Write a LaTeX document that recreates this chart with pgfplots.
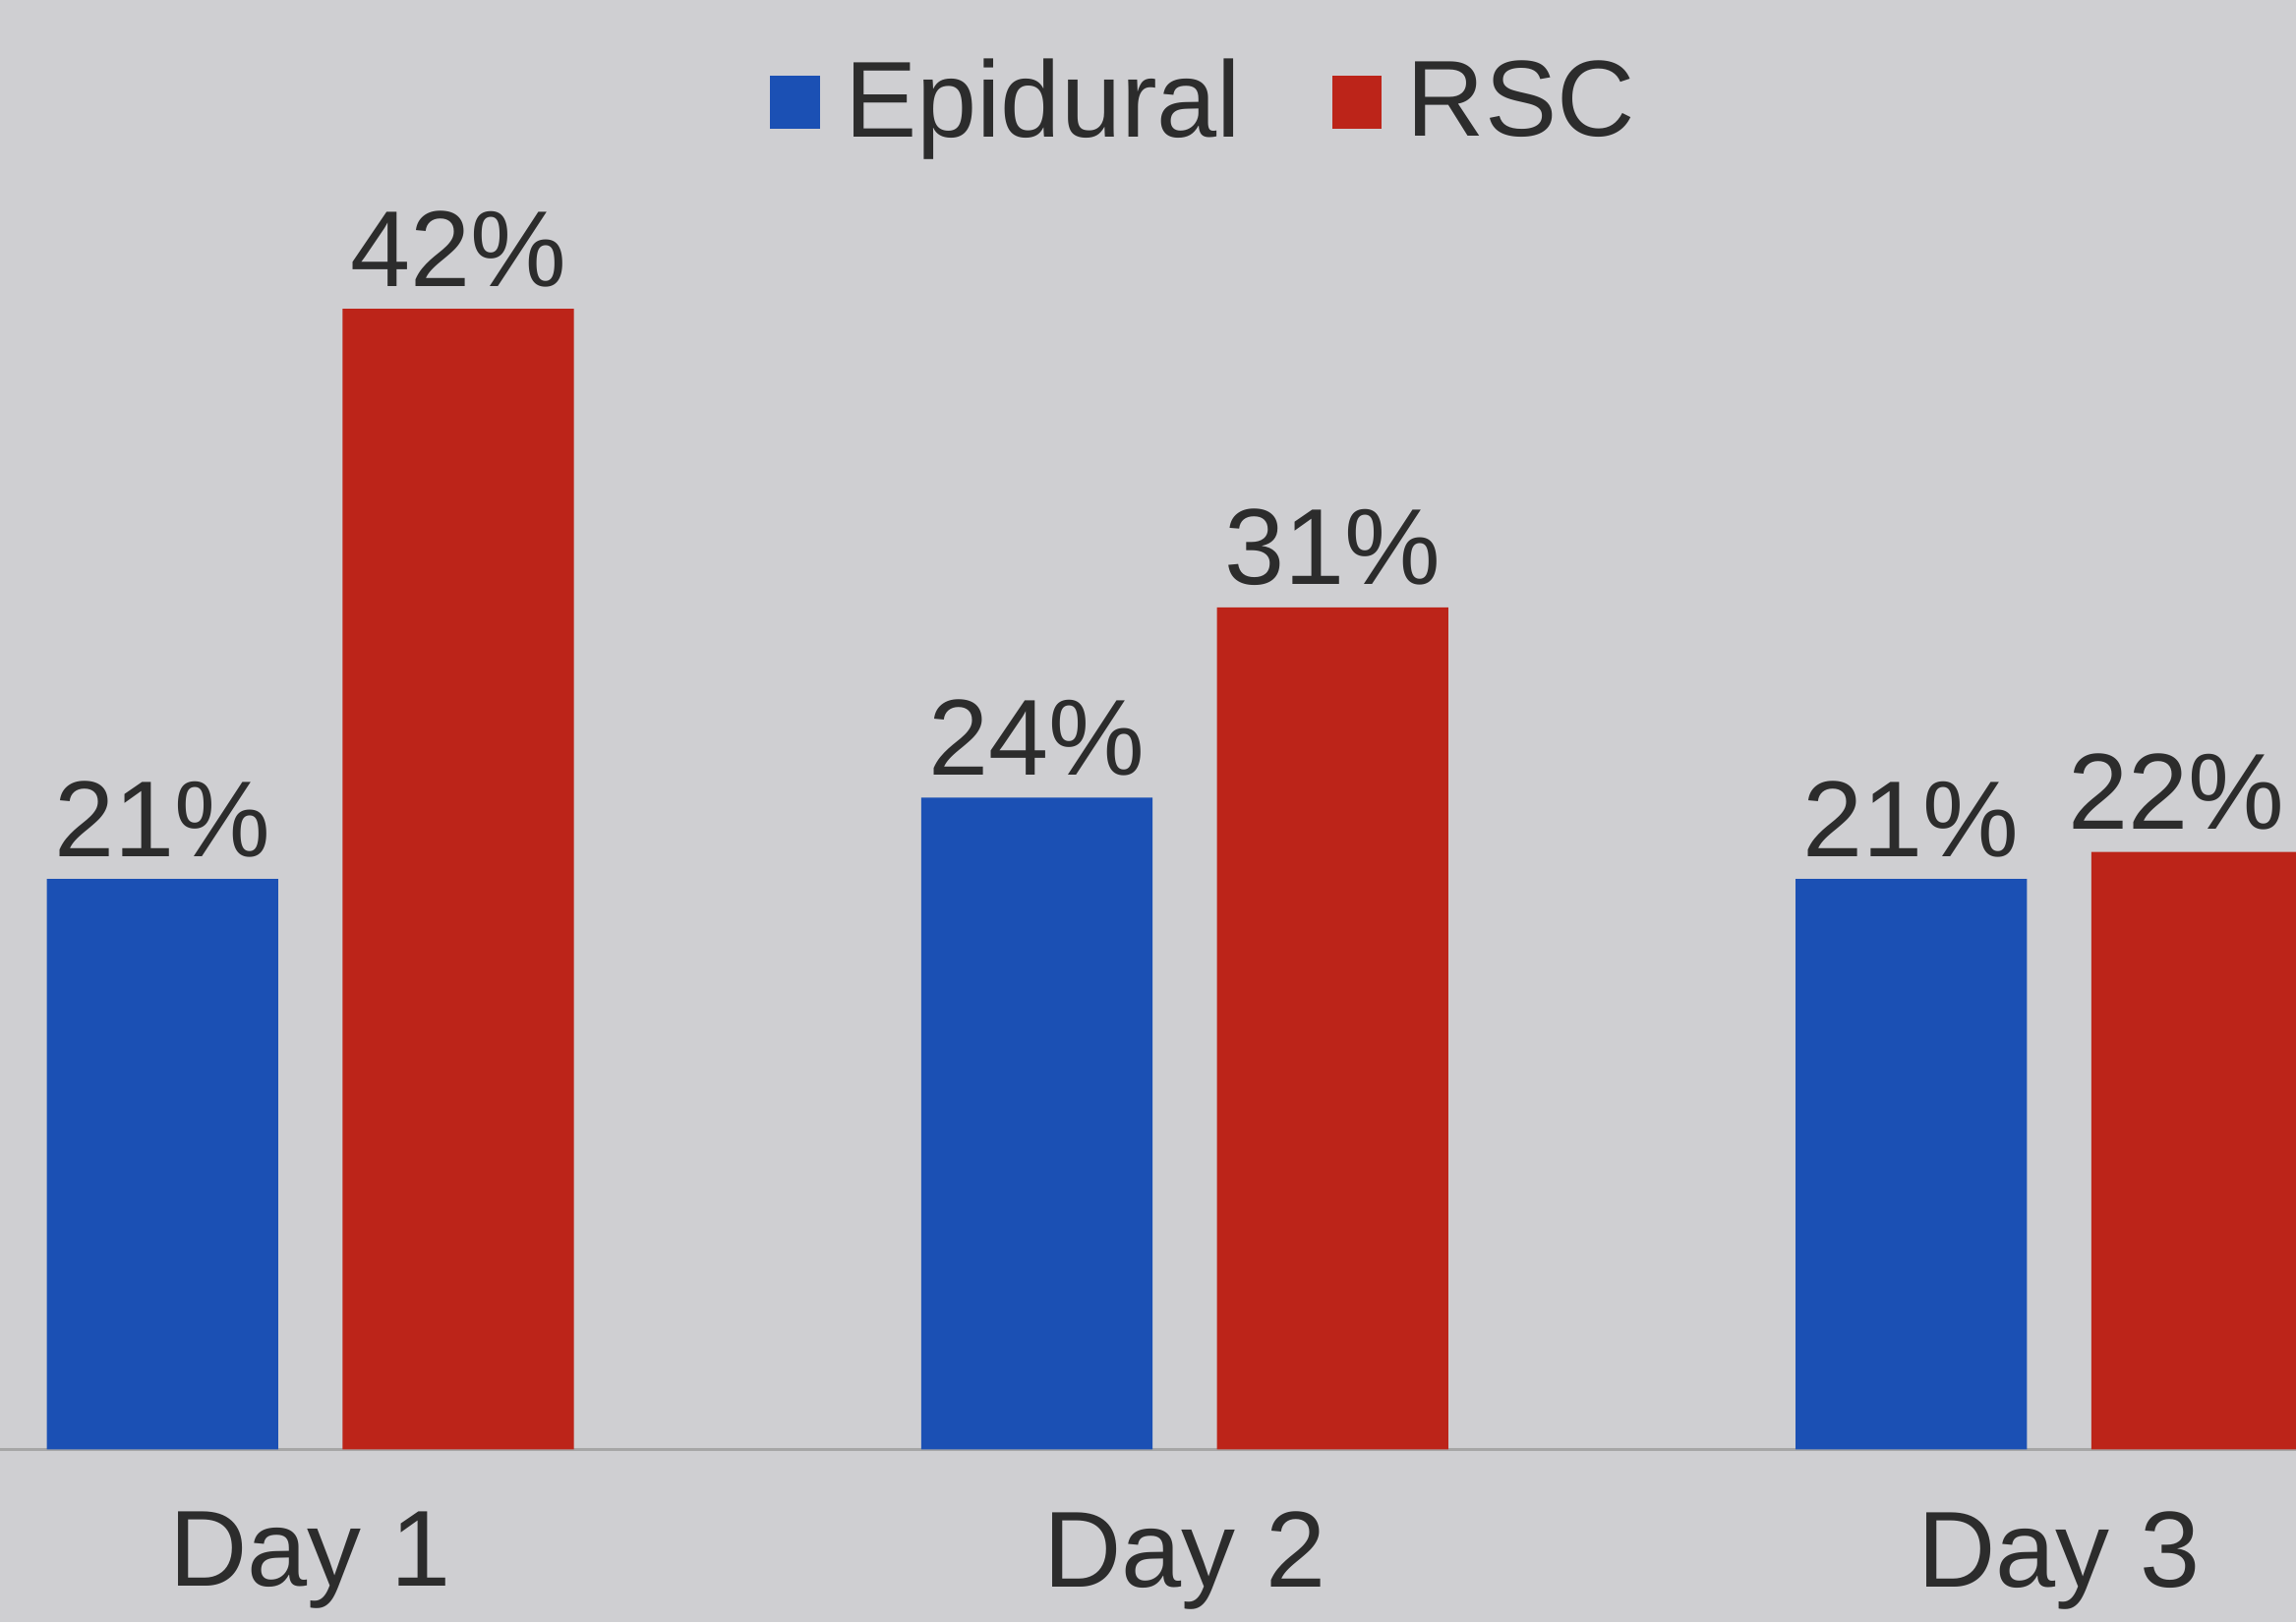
\documentclass[border=0pt]{standalone}
\usepackage{pgfplots}
\pgfplotsset{compat=1.18}
\usepackage{fontspec}
\setmainfont{Liberation Sans}
\definecolor{epiblue}{HTML}{1B50B4}
\definecolor{rscred}{HTML}{BC2419}
\definecolor{bggray}{HTML}{CFCFD2}
\definecolor{txtgray}{HTML}{2C2C2C}
\begin{document}
\begin{tikzpicture}
\begin{axis}[
  scale only axis,
  width=15.68cm, height=11.08cm,
  xmin=-0.355, xmax=2.271,
  ymin=-6.36, ymax=53.37,
  axis background/.style={fill=bggray},
  axis line style={draw=none},
  /pgf/number format/assume math mode=true,
  ybar=0.44cm,
  bar width=1.58cm,
  xtick={0,1,2},
  xticklabels={Day 1,Day 2,Day 3},
  major tick length=0pt,
  xticklabel style={anchor=center, yshift=0.42cm, font=\fontsize{21}{24}\selectfont, text=txtgray},
  ytick=\empty,
  nodes near coords={\pgfmathprintnumber{\pgfplotspointmeta}\%},
  every node near coord/.append style={font=\fontsize{21}{24}\selectfont, text=txtgray, inner sep=4pt},
  legend columns=2,
  legend style={at={(0.526,0.937)}, anchor=center, draw=none, fill=none,
    font=\fontsize{21}{24}\selectfont, text=txtgray,
    /tikz/every odd column/.append style={column sep=0.1cm},
    /tikz/every even column/.append style={column sep=0.55cm}},
  legend image code/.code={\fill[#1,draw=none] (0cm,-0.18cm) rectangle (0.34cm,0.18cm);},
]
\draw[gray!70, line width=0.6pt] (axis cs:-0.355,0) -- (axis cs:2.271,0);
\addplot[fill=epiblue, draw=none] coordinates {(0,21) (1,24) (2,21)};
\addplot[fill=rscred, draw=none,
  visualization depends on={x \as \xv},
  every node near coord/.append style={xshift={ifthenelse(\xv>1.5,-6,0)*1pt}}]
  coordinates {(0,42) (1,31) (2,22)};
\legend{Epidural,RSC}
\end{axis}
\pgfresetboundingbox
\useasboundingbox (current axis.south west) rectangle (current axis.north east);
\end{tikzpicture}
\end{document}
